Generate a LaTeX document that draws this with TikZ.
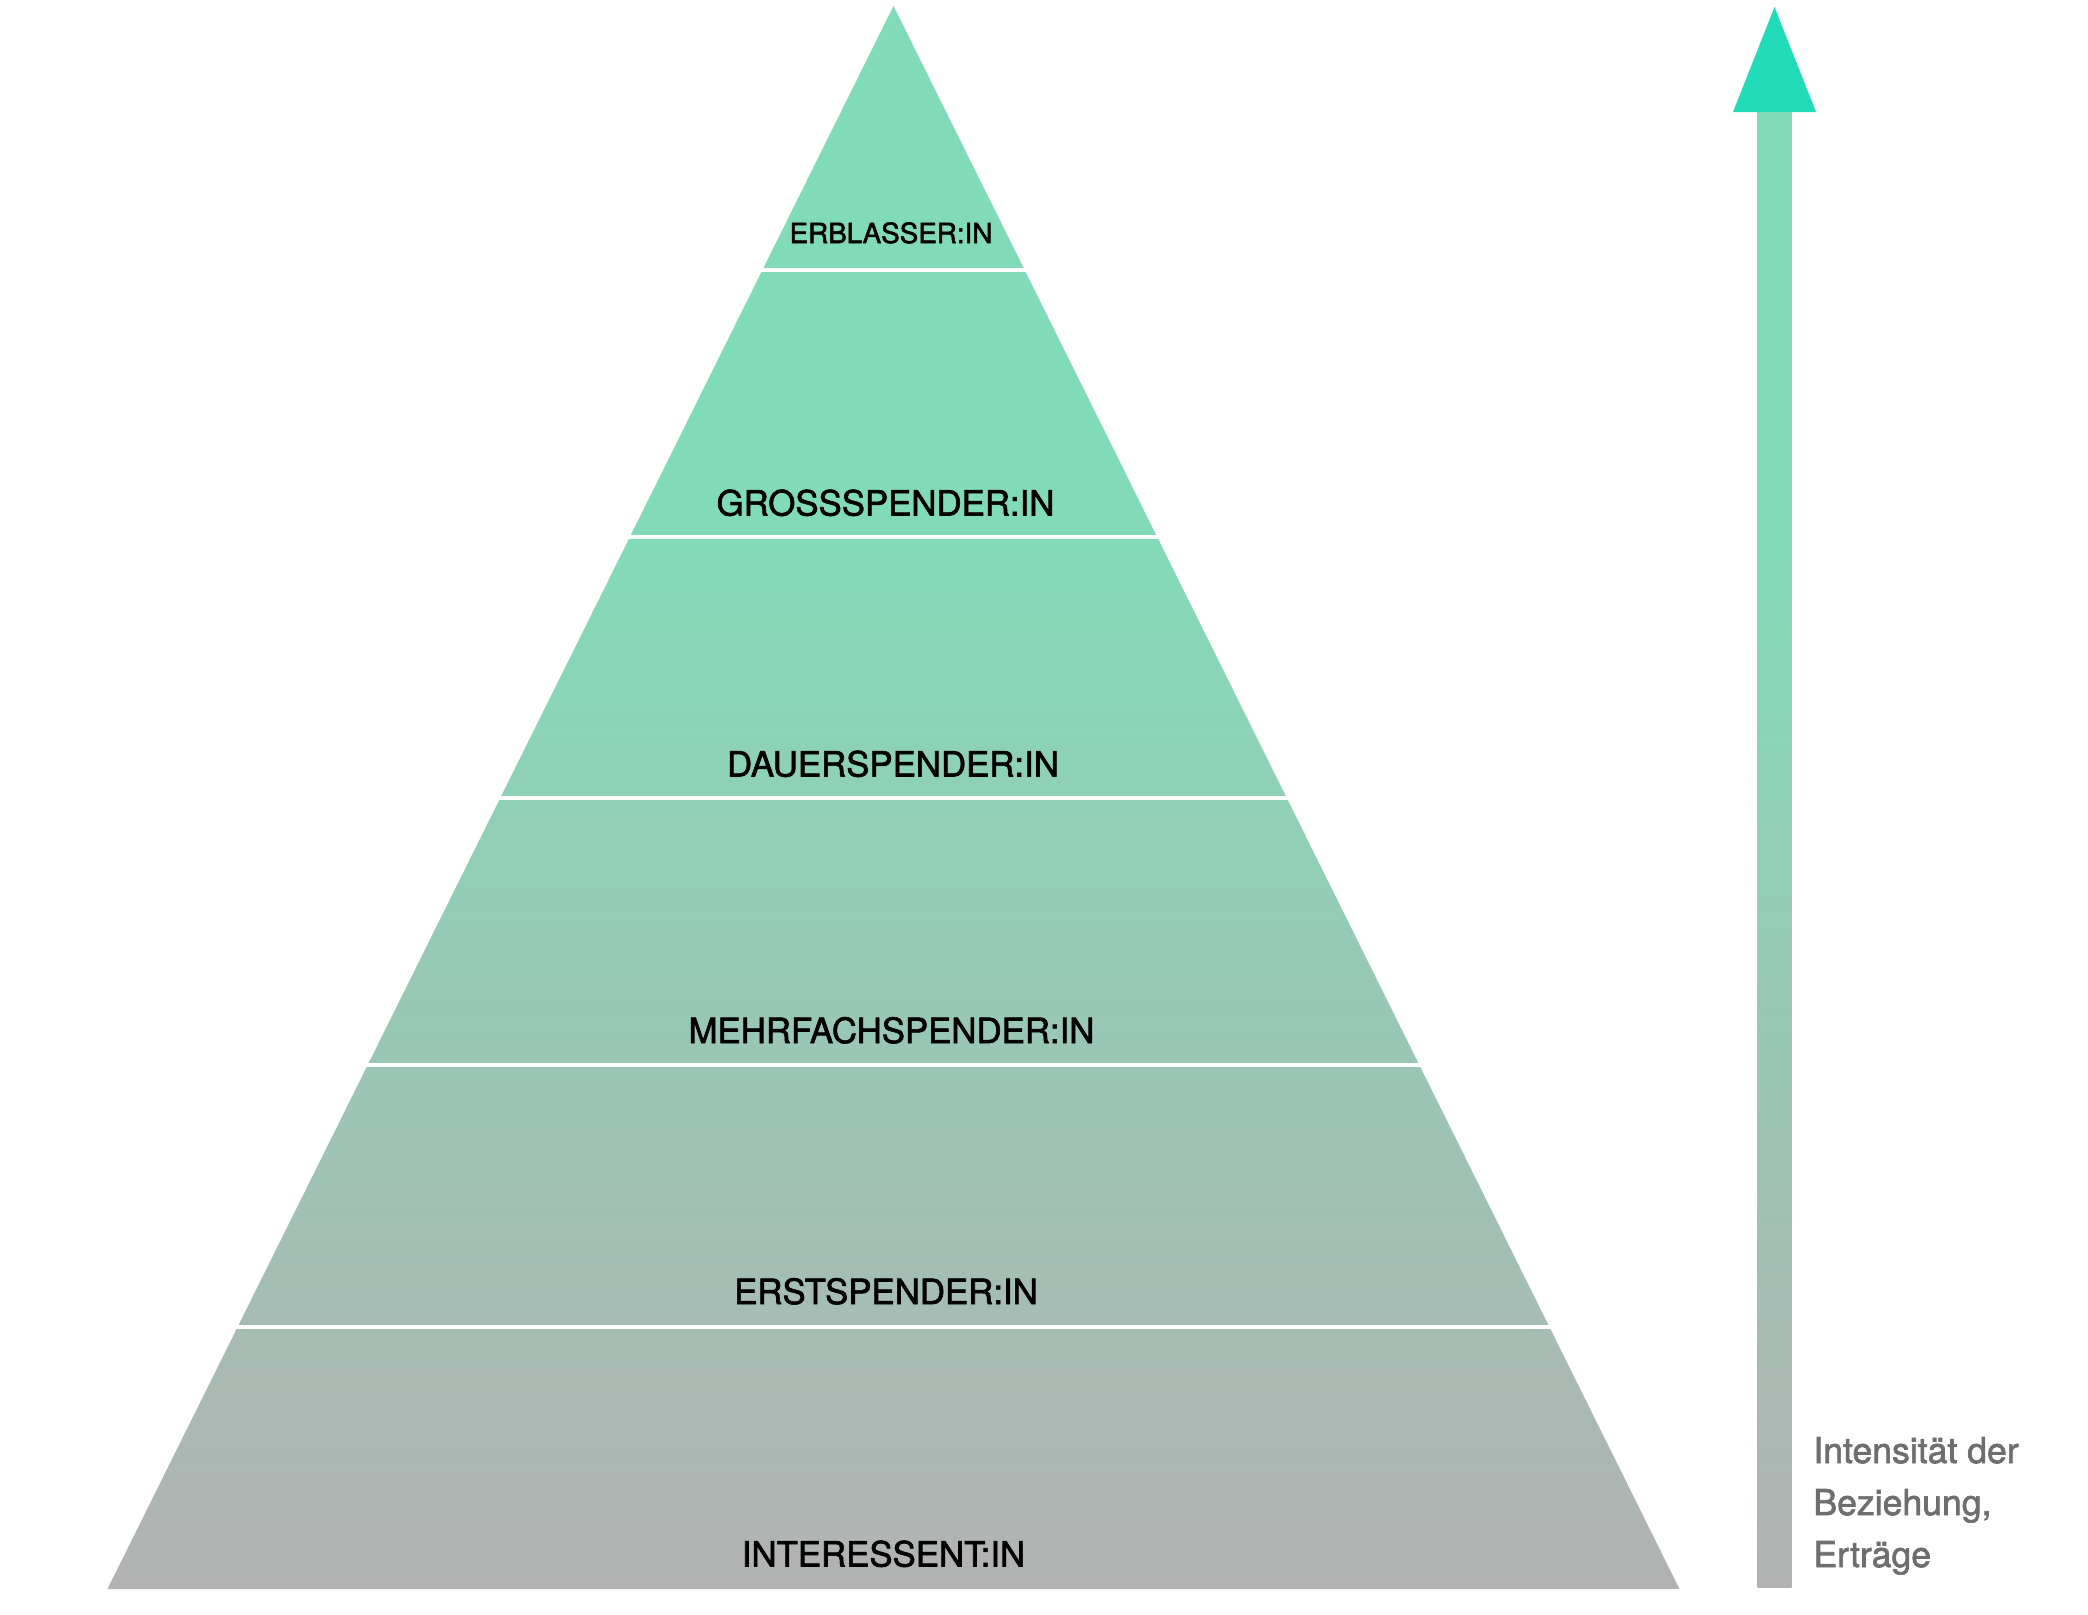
\documentclass[tikz,border=0pt]{standalone}
\usepackage{fontspec}
\setmainfont{TeX Gyre Heros}
\newfontfamily\lblfont{TeX Gyre Heros}[FakeBold=1.8]
\definecolor{pyrtop}{HTML}{82DBB8}
\definecolor{pyrbot}{HTML}{B2B2B2}
\definecolor{headcol}{HTML}{22DBB8}
\definecolor{infogray}{HTML}{6E6E6E}
\pgfdeclareverticalshading{pyrshade}{100bp}{color(0bp)=(pyrbot); color(25bp)=(pyrbot); color(59bp)=(pyrtop); color(75bp)=(pyrtop); color(100bp)=(pyrtop)}
\pgfdeclareverticalshading{shaftshade}{100bp}{color(0bp)=(pyrbot); color(25bp)=(pyrbot); color(61bp)=(pyrtop); color(75bp)=(pyrtop); color(100bp)=(pyrtop)}
\begin{document}
\begin{tikzpicture}[x=0.5pt,y=-0.5pt,
  lvl/.style={font=\lblfont\fontsize{17.4}{20}\selectfont, anchor=base, inner sep=0pt, text=black},
  lvlsmall/.style={lvl, font=\lblfont\fontsize{13.9}{16}\selectfont},
  info/.style={font=\lblfont\fontsize{17.8}{26}\selectfont, anchor=base west, inner sep=0pt, text=infogray},
  sepline/.style={draw=white, line width=1.75pt}]
\useasboundingbox (0,0) rectangle (2088,1614);
% pyramid
\shade[shading=pyrshade] (893.5,6) -- (1679.5,1589) -- (107.5,1589) -- cycle;
% separators
\foreach \yy in {270,537,798,1065,1327}{
  \pgfmathsetmacro\hw{0.4965*(\yy-6)+6}
  \draw[sepline] (893.5-\hw,\yy) -- (893.5+\hw,\yy);
}
% labels
\node[lvlsmall] (erb) at (891,243) {ERBLASSER:IN};
\node[lvl] (gross) at (885.5,515.5) {GROSSSPENDER:IN};
\node[lvl] (dauer) at (893,776.5) {DAUERSPENDER:IN};
\node[lvl] (mehr) at (891.5,1043) {MEHRFACHSPENDER:IN};
\node[lvl] (erst) at (886,1304) {ERSTSPENDER:IN};
\node[lvl] (inter) at (883.5,1566.5) {INTERESSENT:IN};
% arrow
\shade[shading=shaftshade] (1757.5,111) rectangle (1791.5,1587);
\fill[headcol] (1774.5,7) -- (1816,112) -- (1733,112) -- cycle;
% info text
\node[info] (info1) at (1813,1463) {Intensität der};
\node[info] (info2) at (1813,1515) {Beziehung,};
\node[info] (info3) at (1813,1567) {Erträge};
\end{tikzpicture}
\end{document}
